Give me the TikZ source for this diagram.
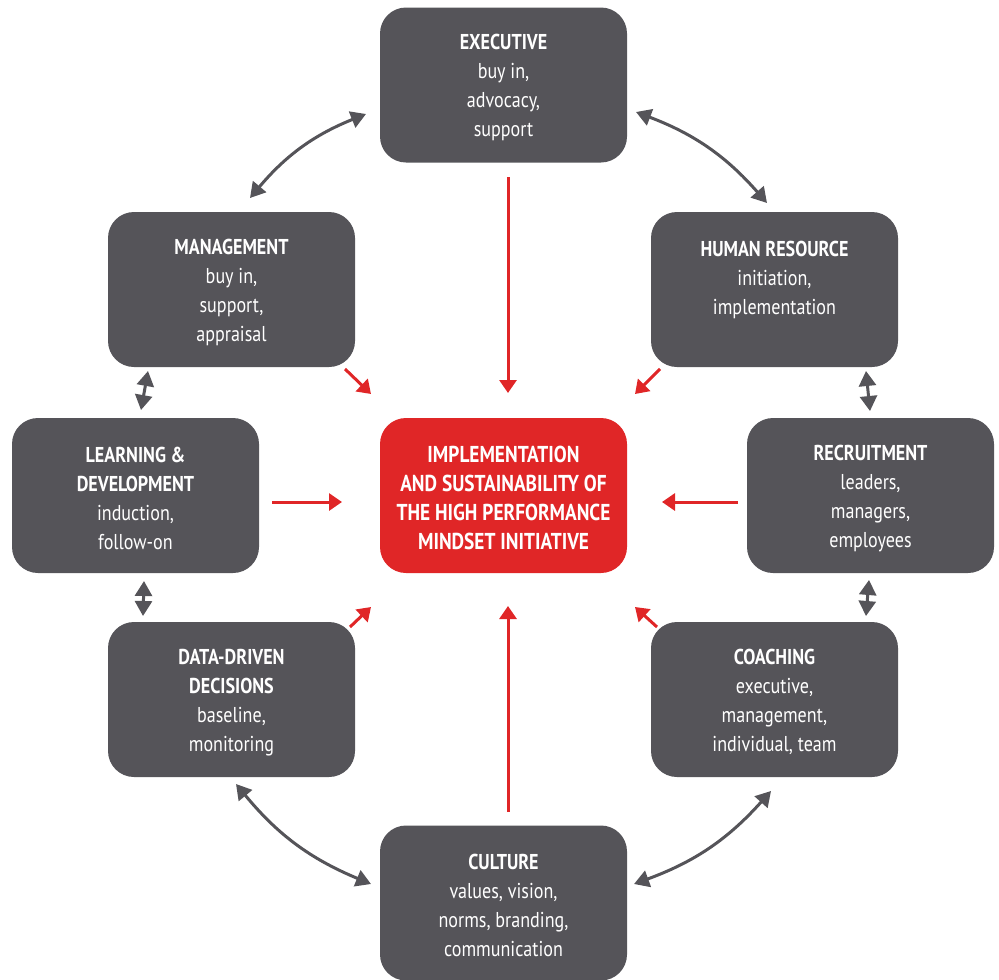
\documentclass[tikz,border=0pt]{standalone}
\usepackage{fontspec}
\setmainfont[FakeStretch=0.84]{PT Sans}
\usetikzlibrary{arrows.meta}
\definecolor{boxgray}{RGB}{85,84,89}
\definecolor{boxred}{RGB}{224,38,39}
\newcommand{\tstrut}{\rule{0pt}{21pt}}
\tikzset{
  gbox/.style={fill=boxgray, rounded corners=26pt, minimum width=247pt, minimum height=155pt, inner sep=0pt, align=center, text=white, font=\fontsize{21.5}{29}\selectfont},
  rbox/.style={gbox, fill=boxred, font=\fontsize{23}{29}\selectfont},
  garrow/.style={draw=boxgray, line width=3pt, {Triangle[length=15pt,width=17pt]}-{Triangle[length=15pt,width=17pt]}},
  rarrow/.style={draw=boxred, line width=3pt, -{Triangle[length=13pt,width=17pt]}}
}
\begin{document}
\begin{tikzpicture}[x=1pt,y=-1pt]
\useasboundingbox (0,0) rectangle (999,980);
\node[gbox] (exec) at (503.5,85) {\tstrut\textbf{EXECUTIVE}\\buy in,\\advocacy,\\support};
\node[gbox] (mgmt) at (231.5,289.5) {\tstrut\textbf{MANAGEMENT}\\buy in,\\support,\\appraisal};
\node[gbox] (hr) at (774.5,289.5) {\tstrut\textbf{HUMAN RESOURCE}\\initiation,\\implementation\\\mbox{}};
\node[gbox] (learn) at (135.5,495.5) {\tstrut\textbf{LEARNING \&}\\\textbf{DEVELOPMENT}\\induction,\\follow-on};
\node[rbox] (core) at (503.5,495.5) {\tstrut\textbf{IMPLEMENTATION}\\\textbf{AND SUSTAINABILITY OF}\\\textbf{THE HIGH PERFORMANCE}\\\textbf{MINDSET INITIATIVE}};
\node[gbox] (recr) at (870.5,495.5) {\tstrut\textbf{RECRUITMENT}\\leaders,\\managers,\\employees};
\node[gbox] (data) at (231.5,699.5) {\tstrut\textbf{DATA-DRIVEN}\\\textbf{DECISIONS}\\baseline,\\monitoring};
\node[gbox] (coach) at (774.5,699.5) {\tstrut\textbf{COACHING}\\executive,\\management,\\individual, team};
\node[gbox] (cult) at (503.5,903) {\tstrut\textbf{CULTURE}\\values, vision,\\norms, branding,\\communication};
% gray connector end points
\coordinate (a1) at (250,198);
\coordinate (a2) at (366,114);
\coordinate (b1) at (636,112);
\coordinate (b2) at (767,203);
\coordinate (c1) at (236,784);
\coordinate (c2) at (371,884);
\coordinate (d1) at (634,884);
\coordinate (d2) at (771,791);
\coordinate (e1) at (148,371);
\coordinate (e2) at (141,410);
\coordinate (f1) at (866,371);
\coordinate (f2) at (870,411);
\coordinate (g1) at (144,581);
\coordinate (g2) at (143,616);
\coordinate (h1) at (869,580);
\coordinate (h2) at (866,616);
\draw[garrow] (a1) to[bend left=14] (a2);
\draw[garrow] (b1) to[bend left=14] (b2);
\draw[garrow] (c1) to[bend right=14] (c2);
\draw[garrow] (d1) to[bend right=14] (d2);
\draw[garrow] (e1) -- (e2);
\draw[garrow] (f1) -- (f2);
\draw[garrow] (g1) -- (g2);
\draw[garrow] (h1) -- (h2);
% red connector points
\coordinate (r1) at (508,177);
\coordinate (r1e) at (508,393);
\coordinate (r2) at (345,369);
\coordinate (r2e) at (371,394);
\coordinate (r3) at (660,369);
\coordinate (r3e) at (635,394);
\coordinate (r4) at (272,502);
\coordinate (r4e) at (342,502);
\coordinate (r5) at (738,502);
\coordinate (r5e) at (662,502);
\coordinate (r6) at (350,627);
\coordinate (r6e) at (371,607);
\coordinate (r7) at (657,627);
\coordinate (r7e) at (635,607);
\coordinate (r8) at (508,812);
\coordinate (r8e) at (508,606);
\draw[rarrow] (r1) -- (r1e);
\draw[rarrow] (r2) -- (r2e);
\draw[rarrow] (r3) -- (r3e);
\draw[rarrow] (r4) -- (r4e);
\draw[rarrow] (r5) -- (r5e);
\draw[rarrow] (r6) -- (r6e);
\draw[rarrow] (r7) -- (r7e);
\draw[rarrow] (r8) -- (r8e);
\end{tikzpicture}
\end{document}
